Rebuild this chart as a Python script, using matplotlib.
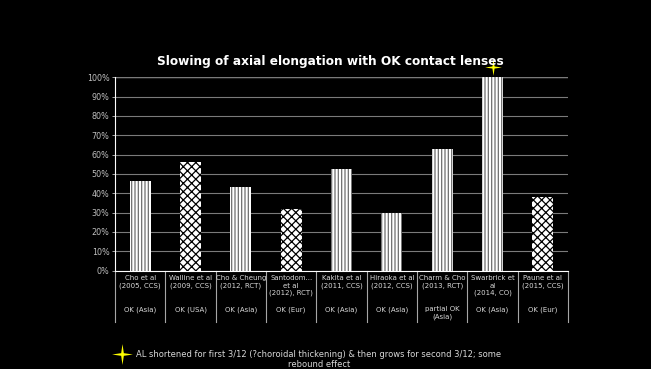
import matplotlib.pyplot as plt
from matplotlib.path import Path
from matplotlib.transforms import ScaledTranslation
from matplotlib.ticker import PercentFormatter
import numpy as np

# --- Data ---
studies = ["Cho et al", "Walline et al", "Cho & Cheung", "Santodom...\net al",
           "Kakita et al", "Hiraoka et al", "Charm & Cho", "Swarbrick et\nal", "Paune et al"]
designs = ["(2005, CCS)", "(2009, CCS)", "(2012, RCT)", "(2012), RCT)",
           "(2011, CCS)", "(2012, CCS)", "(2013, RCT)", "(2014, CO)", "(2015, CCS)"]
regions = ["OK (Asia)", "OK (USA)", "OK (Asia)", "OK (Eur)", "OK (Asia)",
           "OK (Asia)", "partial OK\n(Asia)", "OK (Asia)", "OK (Eur)"]
slowing = [46.5, 56, 43, 32, 52.5, 30, 63, 100, 38]
noisy = [False, True, False, True, False, False, False, False, True]
star_study = 7
note = "AL shortened for first 3/12 (?choroidal thickening) & then grows for second 3/12; some\nrebound effect"

plt.rcParams["font.family"] = ["DejaVu Sans"]
plt.rcParams["hatch.linewidth"] = 0.9

# thin four-pointed star
a = np.linspace(0, 2 * np.pi, 9)[:-1] + np.pi / 2
r = np.where(np.arange(8) % 2 == 0, 1.0, 0.18)
star = Path(np.column_stack([r * np.cos(a), r * np.sin(a)]).tolist() + [[0, 1]], closed=True)

fig = plt.figure(figsize=(6.51, 3.69), dpi=100, facecolor="black")
ax = fig.add_axes([0.1767, 0.2667, 0.6958, 0.5238], facecolor="black")

x = list(range(len(slowing)))
for i in x:
    ax.bar(i, slowing[i], width=0.42, color="white",
           edgecolor="black" if noisy[i] else "#6e6e6e",
           hatch="xxxx" if noisy[i] else "|||||", linewidth=0, zorder=3)

ax.set_xlim(-0.5, len(slowing) - 0.5)
ax.set_ylim(0, 100)
ax.set_yticks(range(0, 101, 10))
ax.yaxis.set_major_formatter(PercentFormatter(decimals=0))
ax.tick_params(axis="y", colors="#bfbfbf", labelsize=5.8, length=2, width=0.6, pad=2)
ax.set_xticks([])
ax.grid(axis="y", color="#7a7a7a", linewidth=0.8, zorder=0)
ax.axhline(100, color="#d0d0d0", linewidth=0.9, zorder=1)
for side in ["top", "right"]:
    ax.spines[side].set_visible(False)
ax.spines["left"].set_color("white")
ax.spines["bottom"].set_color("white")

# category table under the axis
for i in x:
    ax.text(i, -0.025, studies[i] + "\n" + designs[i],
            transform=ax.get_xaxis_transform(), ha="center", va="top",
            fontsize=5, color="#d9d9d9", linespacing=1.25)
    ax.text(i, -0.185, regions[i], transform=ax.get_xaxis_transform(),
            ha="center", va="top", fontsize=5, color="#d9d9d9", linespacing=1.25)
for b in [i - 0.5 for i in x] + [len(slowing) - 0.5]:
    ax.plot([b, b], [0, -0.265], transform=ax.get_xaxis_transform(),
            color="#a6a6a6", linewidth=0.8, clip_on=False)

# star marker above Swarbrick
ax.plot([star_study], [slowing[star_study]], marker=star, markersize=12,
        color="#ffff00", markeredgewidth=0, clip_on=False, zorder=5,
        transform=ax.transData + ScaledTranslation(0, 0.1, fig.dpi_scale_trans))

fig.text(0.507, 0.832, "Slowing of axial elongation with OK contact lenses",
         color="white", fontsize=8.7, fontweight="bold", ha="center", va="center")

# legend note
ax.plot([0.187], [0.04], marker=star, markersize=15, color="#ffff00",
        markeredgewidth=0, transform=fig.transFigure, clip_on=False)
fig.text(0.49, 0.026, note, ha="center", va="center", fontsize=6,
         color="#d9d9d9", linespacing=1.15)

fig.savefig("out.png", dpi=100, facecolor="black")
